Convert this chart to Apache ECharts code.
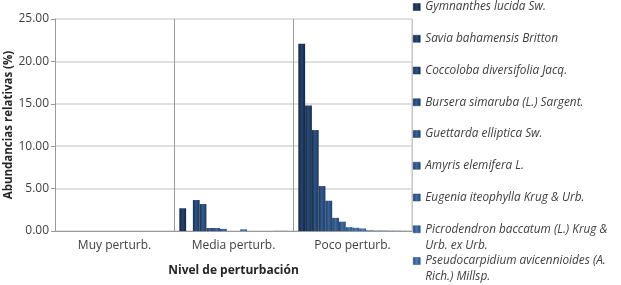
<!DOCTYPE html>
<html>
<head>
<meta charset="utf-8">
<script src="https://cdn.jsdelivr.net/npm/echarts@6/dist/echarts.min.js"></script>
<style>
html,body{margin:0;padding:0;background:#fff;}
#c{width:621px;height:285px;}
</style>
</head>
<body>
<div id="c"></div>
<script>
var categories = ['Muy perturb.', 'Media perturb.', 'Poco perturb.'];
var speciesNames = [
  'Gymnanthes lucida Sw.',
  'Savia bahamensis Britton',
  'Coccoloba diversifolia Jacq.',
  'Bursera simaruba (L.) Sargent.',
  'Guettarda elliptica Sw.',
  'Amyris elemifera L.',
  'Eugenia iteophylla Krug & Urb.',
  'Picrodendron baccatum (L.) Krug & Urb. ex Urb.',
  'Pseudocarpidium avicennioides (A. Rich.) Millsp.',
  'Especie 10', 'Especie 11', 'Especie 12', 'Especie 13', 'Especie 14', 'Especie 15', 'Especie 16'
];
var legendLabels = [
  'Gymnanthes lucida Sw.',
  'Savia bahamensis Britton',
  'Coccoloba diversifolia Jacq.',
  'Bursera simaruba (L.) Sargent.',
  'Guettarda elliptica Sw.',
  'Amyris elemifera L.',
  'Eugenia iteophylla Krug & Urb.',
  'Picrodendron baccatum (L.) Krug &\nUrb. ex Urb.',
  'Pseudocarpidium avicennioides (A.\nRich.) Millsp.'
];
// values per species: [Muy, Media, Poco]
var muyValues   = [0, 0, 0, 0, 0, 0, 0, 0, 0, 0, 0, 0, 0, 0, 0, 0];
var mediaValues = [2.68, 0, 3.65, 3.18, 0.35, 0.35, 0.25, 0, 0, 0.2, 0, 0, 0, 0, 0.02, 0.02];
var pocoValues  = [22.07, 14.8, 11.9, 5.3, 3.57, 1.55, 1.1, 0.45, 0.38, 0.3, 0.08, 0.05, 0.05, 0.04, 0.03, 0.02];
var yTicks = [0, 5, 10, 15, 20, 25];

var baseColors = ['#1a3763','#1f406f','#24497c','#285188','#2c5993','#31609d','#3567a7','#3a6eaf','#4076b8','#467dbe','#4c84c3','#528ac8','#5890cc','#5e96d0','#649cd3','#6aa2d6'];

function shade(hex, f){
  var r=parseInt(hex.substr(1,2),16), g=parseInt(hex.substr(3,2),16), b=parseInt(hex.substr(5,2),16);
  function c(v){ v=Math.round(f<1? v*f : v+(255-v)*(f-1)); return Math.max(0,Math.min(255,v)); }
  return 'rgb('+c(r)+','+c(g)+','+c(b)+')';
}
function grad(hex){
  return {type:'linear',x:0,y:0,x2:1,y2:0,colorStops:[
    {offset:0,color:shade(hex,0.62)},
    {offset:0.45,color:shade(hex,1.06)},
    {offset:1,color:shade(hex,0.72)}
  ]};
}

var series = speciesNames.map(function(name, i){
  return {
    name: name,
    type: 'bar',
    barGap: '0%',
    barCategoryGap: '9%',
    data: [muyValues[i], mediaValues[i], pocoValues[i]],
    itemStyle: { color: grad(baseColors[i]), borderWidth: 0 },
    emphasis: { disabled: true }
  };
});

var font = '"Open Sans", "DejaVu Sans", sans-serif';
var legends = legendLabels.map(function(lbl, i){
  var twoLine = lbl.indexOf('\n') >= 0;
  var center = 7 + 31.75 * i;
  var shown = twoLine ? '\u00a0\n' + lbl : lbl;
  return {
    data: [{ name: speciesNames[i], icon: 'rect' }],
    orient: 'vertical',
    left: 413,
    top: twoLine ? center - 24 : center - 7,
    itemWidth: 7,
    itemHeight: 7,
    itemGap: 0,
    padding: 0,
    selectedMode: false,
    formatter: function(){ return shown; },
    itemStyle: { color: grad(baseColors[i]), borderColor: shade(baseColors[i],0.6), borderWidth: 0.5 },
    textStyle: {
      fontFamily: font, fontStyle: 'italic', fontSize: 11.8, color: '#404040',
      lineHeight: twoLine ? 16 : 14
    }
  };
});

var chart = echarts.init(document.getElementById('c'), null, {renderer:'canvas'});
chart.setOption({
  animation: false,
  backgroundColor: '#fff',
  textStyle: { fontFamily: font },
  legend: legends,
  grid: { left: 55, top: 19, right: 209, bottom: 54, containLabel: false, outerBoundsMode: 'none' },
  xAxis: {
    type: 'category',
    data: categories,
    name: 'Nivel de perturbación',
    nameLocation: 'middle',
    nameGap: 34,
    nameMoveOverlap: false,
    nameTextStyle: { fontFamily: font, fontWeight: 'bold', fontSize: 12, color: '#262626' },
    axisLine: { show: true, lineStyle: { color: '#9a9a9a', width: 1 } },
    axisTick: { show: false },
    axisLabel: { fontFamily: font, fontSize: 12, color: '#404040', margin: 9 },
    splitLine: { show: true, lineStyle: { color: '#9a9a9a', width: 1 } }
  },
  yAxis: [{
    type: 'value',
    min: 0, max: 25, interval: 5,
    name: 'Abundancias relativas (%)',
    nameLocation: 'middle',
    nameGap: 40,
    nameMoveOverlap: false,
    nameRotate: 90,
    nameTextStyle: { fontFamily: font, fontWeight: 'bold', fontSize: 11.5, color: '#262626' },
    axisLine: { show: true, lineStyle: { color: '#9a9a9a', width: 1 } },
    axisTick: { show: true, length: 4, inside: false, lineStyle: { color: '#9a9a9a' } },
    axisLabel: { fontFamily: font, fontSize: 12, color: '#404040', margin: 6,
      formatter: function(v){ return yTicks.indexOf(v) >= 0 ? v.toFixed(2) : ''; } },
    splitLine: { show: true, lineStyle: { color: '#d6d6d6', width: 1.5 } }
  }, {
    type: 'value', min: 0, max: 25, interval: 5, position: 'right',
    axisLine: { show: true, lineStyle: { color: '#d6d6d6', width: 1.5 } },
    axisTick: { show: false }, axisLabel: { show: false }, splitLine: { show: false }
  }],
  series: series
});
</script>
</body>
</html>
